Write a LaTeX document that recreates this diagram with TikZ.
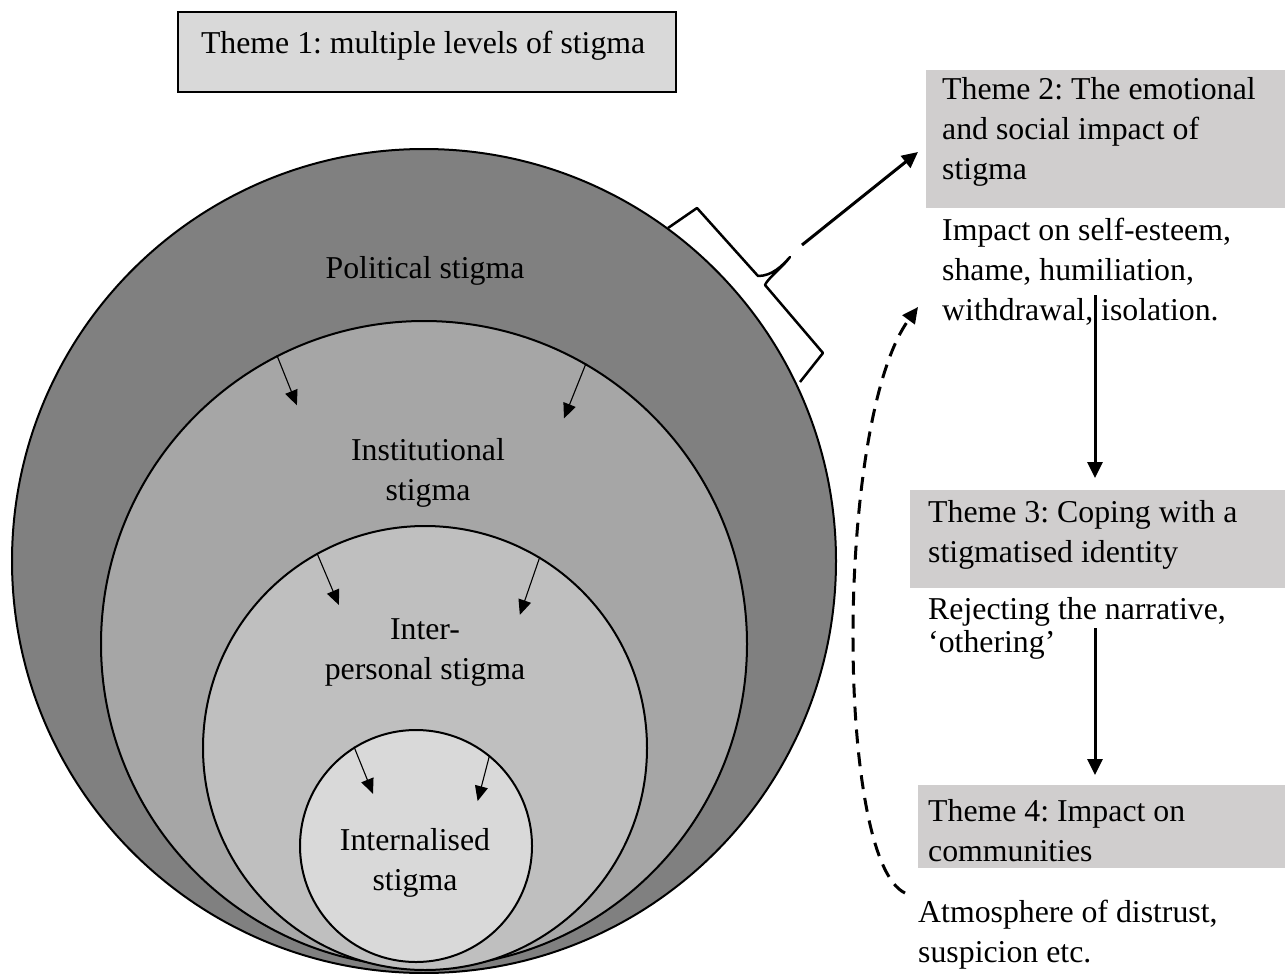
\documentclass[tikz,border=0pt]{standalone}
\usepackage{fontspec}
\setmainfont{Liberation Serif}
\usetikzlibrary{arrows.meta}
\definecolor{gOne}{HTML}{808080}
\definecolor{gTwo}{HTML}{A6A6A6}
\definecolor{gThree}{HTML}{BFBFBF}
\definecolor{gFour}{HTML}{D9D9D9}
\definecolor{boxgray}{HTML}{D0CECE}
\newcommand\diagfont{\fontsize{31.8}{40}\selectfont\frenchspacing}
\begin{document}
\begin{tikzpicture}[x=1pt,y=-1pt,
  every node/.style={font=\diagfont, text=black},
  ring/.style={circle, draw=black, line width=2pt, inner sep=0pt},
  smallarrow/.style={line width=1.1pt, -{Triangle[length=15pt,width=13pt]}},
  bigarrow/.style={line width=3pt, -{Triangle[length=16pt,width=15pt]}},
  themebox/.style={fill=boxgray, anchor=north west, inner ysep=7pt, align=flush left},
  plain/.style={anchor=base west, align=left, inner sep=0pt},
  lvl/.style={anchor=base, align=center, inner sep=0pt}]
\useasboundingbox (0,0) rectangle (1285,974);
% nested circles
\node[ring, fill=gOne, minimum size=824pt] (c1) at (424,561) {};
\node[ring, fill=gTwo, minimum size=646pt] (c2) at (424,644) {};
\node[ring, fill=gThree, minimum size=444pt] (c3) at (425,748) {};
\node[ring, fill=gFour, minimum size=232pt] (c4) at (416,846) {};
% level labels (anchor = baseline of last line)
\node[lvl] (l1) at (425,278) {Political stigma};
\node[lvl] (l2) at (428,500) {Institutional\\stigma};
\node[lvl] (l3) at (425,679) {Inter-\\personal stigma};
\node[lvl] (l4) at (415,890) {Internalised\\stigma};
% small inward arrows
\draw[smallarrow] (c2.117) -- ++(20,50);
\draw[smallarrow] (c2.60) -- ++(-22,55);
\draw[smallarrow] (c3.119) -- ++(22,52);
\draw[smallarrow] (c3.59) -- ++(-20,58);
\draw[smallarrow] (c4.122) -- ++(19,47);
\draw[smallarrow] (c4.51) -- ++(-12,46);
% brace
\draw[line width=2.5pt, line join=round] (668,228) -- (697,208) -- (758,276)
  .. controls (772,276) and (782,266) .. (790,257)
  .. controls (782,268) and (768,278) .. (765,285) -- (823,353) -- (800,382);
% theme boxes
\node[themebox, draw=black, line width=2pt, inner xsep=23pt, text width=452pt,
  text height=35pt, text depth=31pt, fill=gFour] (t1) at (177,11) {Theme 1: multiple levels of stigma};
\node[themebox, inner xsep=16pt, text width=327pt, text height=22pt, text depth=102pt]
  (t2) at (926,70) {Theme 2: The emotional\\and social impact of\\stigma};
\node[themebox, inner xsep=18pt, text width=339pt, text height=25pt, text depth=59pt]
  (t3) at (910,490) {Theme 3: Coping with a\\stigmatised identity};
\node[themebox, inner xsep=10pt, text width=347pt, text height=29pt, text depth=40pt]
  (t4) at (918,785) {Theme 4: Impact on\\communities};
% descriptions (anchor = baseline of last line)
\node[plain] (imp) at (942,320) {Impact on self-esteem,\\shame, humiliation,\\withdrawal, isolation.};
\node[plain] (rej) at (928,652) {Rejecting the narrative,\\[-7pt]‘othering’};
\node[plain] (atm) at (918,962) {Atmosphere of distrust,\\suspicion etc.};
% connectors
\coordinate (a1s) at (802,245);
\coordinate (a1e) at (918,152);
\draw[bigarrow] (a1s) -- (a1e);
\coordinate (v1s) at (1095,295);
\draw[bigarrow, shorten >=12pt] (v1s) -- (v1s |- t3.north);
\coordinate (v2s) at (1095,628);
\draw[bigarrow, shorten >=10pt] (v2s) -- (v2s |- t4.north);
\coordinate (d1s) at (905,893);
\coordinate (d1e) at (918,307);
\draw[bigarrow, dash pattern=on 14pt off 9pt] (d1s) .. controls (835,860) and (835,420) .. (d1e);
\end{tikzpicture}
\end{document}
